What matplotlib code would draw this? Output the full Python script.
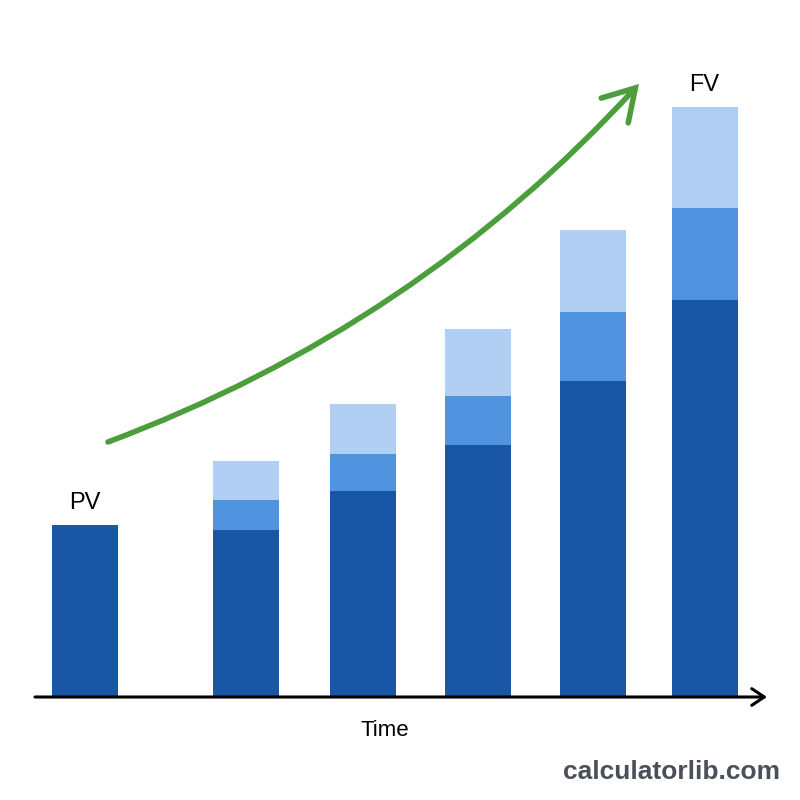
import matplotlib.pyplot as plt
from matplotlib.patches import FancyArrowPatch
import numpy as np

plt.rcParams["font.family"] = ["Liberation Sans", "DejaVu Sans"]

# stacked bar values (arbitrary units)
periods = ["PV", "1", "2", "3", "4", "FV"]
principal = [172, 167, 206, 252, 316, 397]
interest = [0, 30, 37, 49, 69, 92]
compound = [0, 39, 50, 67, 82, 101]
positions = [85, 245.5, 362.5, 478, 592.5, 704.5]

dark = "#1a56a6"
mid = "#5094e0"
light = "#b1cff2"
green = "#4c9e3c"

fig = plt.figure(figsize=(8, 8), dpi=100)
ax = fig.add_axes([0, 103 / 800, 1, 697 / 800])
ax.set_xlim(0, 800)
ax.set_ylim(0, 697)
ax.axis("off")

principal = np.array(principal)
interest = np.array(interest)
compound = np.array(compound)
ax.bar(positions, principal, width=66, color=dark)
ax.bar(positions, interest, width=66, bottom=principal, color=mid)
ax.bar(positions, compound, width=66, bottom=principal + interest, color=light)

# time axis with open arrow head
ax.add_patch(FancyArrowPatch((35, 0), (767, 0), arrowstyle="->,head_length=6,head_width=4",
                             mutation_scale=1.5, color="black", lw=2.2, clip_on=False,
                             shrinkA=0, shrinkB=0, capstyle="round", joinstyle="round"))

# growth arrow
ax.add_patch(FancyArrowPatch((108, 255), (639, 613), connectionstyle="arc3,rad=0.12",
                             arrowstyle="->,head_length=10,head_width=6", mutation_scale=2.2,
                             color=green, lw=4, clip_on=False, shrinkA=0, shrinkB=0,
                             capstyle="round", joinstyle="miter"))

top = principal + interest + compound
ax.text(positions[0], top[0] + 11, "PV", ha="center", va="bottom", fontsize=17)
ax.text(positions[-1], top[-1] + 11, "FV", ha="center", va="bottom", fontsize=17)
ax.text(385, -34, "Time", ha="center", va="center", fontsize=16)

fig.text(671 / 800, 1 - 772 / 800, "calculatorlib.com", ha="center", va="center",
         fontsize=19, fontweight="bold", color="#4a4f5a")

fig.savefig("out.png")
